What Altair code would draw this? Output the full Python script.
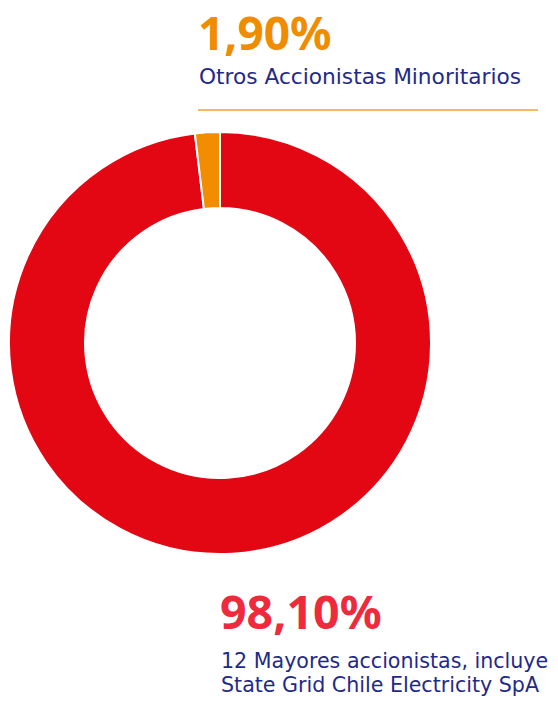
import altair as alt
import pandas as pd

# Data
categories = ["12 Mayores accionistas", "Otros Accionistas Minoritarios"]
shares = [98.10, 1.90]
slice_colors = ["#E30613", "#F28C00"]
order_idx = [0, 1]

pct_labels = ["1,90%", "98,10%"]
desc_orange = ["Otros Accionistas Minoritarios"]
desc_red = ["12 Mayores accionistas, incluye", "State Grid Chile Electricity SpA"]

W, H = 558, 718
CX, CY = 220, 343
FONT = "Noto Sans"
FONT_DESC = "DejaVu Sans"
BLUE = "#1F2A8A"

df = pd.DataFrame({"cat": categories, "share": shares, "ord": order_idx})

donut = alt.Chart(df).mark_arc(innerRadius=135, outerRadius=211, stroke="white", strokeWidth=2).encode(
    theta=alt.Theta("share:Q", stack=True),
    order=alt.Order("ord:Q"),
    color=alt.Color("cat:N", scale=alt.Scale(domain=categories, range=slice_colors), legend=None),
    x=alt.value(CX),
    y=alt.value(CY),
)

def txt(text, x, y, size, color, weight="normal", font=FONT):
    return alt.Chart(pd.DataFrame({"t": [text]})).mark_text(
        align="left", baseline="alphabetic", font=font, fontSize=size, color=color, fontWeight=weight
    ).encode(text="t:N", x=alt.value(x), y=alt.value(y))

layers = [donut]
layers.append(txt(pct_labels[0], 198, 50, 46, "#F08C00", "bold"))
layers.append(txt(desc_orange[0], 199, 84, 21.7, BLUE, font=FONT_DESC))
layers.append(txt(pct_labels[1], 220, 629, 46.5, "#EE2A3C", "bold"))
layers.append(txt(desc_red[0], 221, 668, 20.6, BLUE, font=FONT_DESC))
layers.append(txt(desc_red[1], 221, 692, 20.6, BLUE, font=FONT_DESC))

rule = alt.Chart(pd.DataFrame({"a": [0]})).mark_rule(color="#F5A030", strokeWidth=1.5).encode(
    x=alt.value(198), x2=alt.value(538), y=alt.value(110)
)
layers.append(rule)

chart = alt.layer(*layers).properties(
    width=W, height=H, autosize="none", padding=0
).configure_view(stroke=None)

chart.save("out.html", embed_options={"renderer": "svg", "actions": False})
